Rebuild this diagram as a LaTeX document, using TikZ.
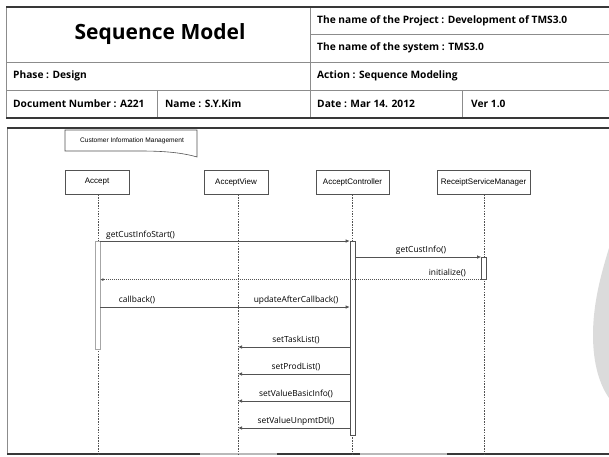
\documentclass[tikz,border=0pt]{standalone}
\usepackage{fontspec}
\setmainfont{Open Sans}
\newfontfamily\hdfont{Liberation Sans}
\usetikzlibrary{arrows.meta,calc}
\definecolor{thk}{gray}{0.22}
\definecolor{thn}{gray}{0.55}
\definecolor{lnc}{gray}{0.32}
\begin{document}
\begin{tikzpicture}[x=1pt,y=-1pt,
  thickline/.style={draw=thk,line width=1.6pt},
  thinline/.style={draw=thn,line width=0.9pt},
  tbltext/.style={anchor=west,inner sep=0pt,font=\bfseries\fontsize{10.2}{12}\selectfont},
  head/.style={draw=lnc,line width=0.6pt,minimum height=24pt,inner sep=0pt,font=\hdfont\fontsize{8}{10}\selectfont},
  lifeline/.style={draw=lnc,line width=0.6pt,dash pattern=on 1.5pt off 1.2pt},
  actbar/.style={draw=lnc,fill=white,line width=0.6pt,minimum width=5pt,inner sep=0pt,anchor=north},
  msg/.style={draw=lnc,line width=0.7pt,-{Latex[length=4pt,width=3.5pt]}},
  retmsg/.style={draw=lnc,line width=0.6pt,dash pattern=on 1pt off 1pt,-{Latex[length=3pt,width=3pt]}},
  lbl/.style={inner sep=0pt,font=\fontsize{8.4}{10}\selectfont}]
\useasboundingbox (0,0) rectangle (609,456);
% watermark
\fill[gray!28] (609,248) .. controls (603,268) and (593,300) .. (593,335) .. controls (593,365) and (600,385) .. (609,398) -- cycle;
% ---------- header table ----------
\draw[thinline] (310,34.5) -- (609,34.5);
\draw[thinline] (6,62) -- (609,62);
\draw[thinline] (6,90) -- (609,90);
\draw[thinline] (6,7) -- (6,118);
\draw[thinline] (310,7) -- (310,118);
\draw[thinline] (157,90) -- (157,118);
\draw[thinline] (462,90) -- (462,118);
\draw[thickline] (6,7) -- (609,7);
\draw[thickline] (6,118) -- (609,118);
\node[inner sep=0pt,font=\bfseries\fontsize{21}{24}\selectfont] (title) at (160,34.5) {Sequence Model};
\node[tbltext] (proj) at (317,20.75) {The name of the Project : Development of TMS3.0};
\node[tbltext] (sys) at (317,48.25) {The name of the system : TMS3.0};
\node[tbltext] (phase) at (13,76) {Phase : Design};
\node[tbltext] (action) at (317,76) {Action : Sequence Modeling};
\node[tbltext] (docno) at (13,104) {Document Number : A221};
\node[tbltext] (name) at (165,104) {Name : S.Y.Kim};
\node[tbltext] (date) at (317,104) {Date : Mar 14. 2012};
\node[tbltext] (ver) at (471,104) {Ver 1.0};
% ---------- frame ----------
\draw[thinline] (7,128) -- (7,454);
\draw[thickline] (7,128) -- (609,128);
\draw[thickline] (7,454) -- (609,454);
\draw[gray!55,line width=1.6pt] (200,454) -- (277,454);
\draw[gray!55,line width=1.6pt] (360,454) -- (447,454);
% note
\draw[draw=lnc,line width=0.6pt,fill=white] (65,130) -- (197,130) -- (197,157) .. controls (180,152) and (160,151) .. (140,151) -- (65,151) -- cycle;
\node[inner sep=0pt,font=\hdfont\fontsize{6.6}{8}\selectfont] (note) at (132,140.5) {Customer Information Management};
% ---------- lifelines ----------
\node[head,minimum width=64pt] (a) at (97,182) {Accept};
\node[head,minimum width=64pt] (av) at (236,182) {AcceptView};
\node[head,minimum width=73pt] (ac) at (352.5,182) {AcceptController};
\node[head,minimum width=93pt] (rsm) at (483.5,182) {ReceiptServiceManager};
\coordinate (aE) at (98,454);
\coordinate (avE) at (238,454);
\coordinate (acE) at (352.5,454);
\coordinate (rsmE) at (484,454);
\draw[lifeline] (a.south -| aE) -- (aE);
\draw[lifeline] (av.south -| avE) -- (avE);
\draw[lifeline] (ac.south -| acE) -- (acE);
\draw[lifeline] (rsm.south -| rsmE) -- (rsmE);
% activation bars
\node[actbar,draw=gray!70,minimum height=108pt] (abar) at (97.5,241) {};
\node[actbar,minimum height=194pt] (acbar) at (352.5,241) {};
\node[actbar,minimum height=22pt] (rsmbar) at (484,257) {};
% ---------- messages ----------
\draw[msg] (abar.north east) -- (acbar.north west);
\node[lbl,anchor=base west] (m1) at (106,237) {getCustInfoStart()};
\draw[msg] (acbar.east |- rsmbar.north) -- (rsmbar.north west);
\node[lbl,anchor=base] (m2) at (421,252) {getCustInfo()};
\draw[retmsg] (rsmbar.south west) -- (abar.east |- rsmbar.south);
\node[lbl,anchor=base east] (m3) at (466,275) {initialize()};
\coordinate (cb) at (238,307);
\draw[draw=lnc,line width=0.7pt] (abar.east |- cb) -- (cb);
\draw[msg] (cb) -- (acbar.west |- cb);
\node[lbl,anchor=base] (m4) at (137,302) {callback()};
\node[lbl,anchor=base] (m5) at (296,302) {updateAfterCallback()};
\coordinate (t1) at (238,347);
\coordinate (t2) at (238,374);
\coordinate (t3) at (238,401);
\coordinate (t4) at (238,428);
\draw[msg] (acbar.west |- t1) -- (t1);
\draw[msg] (acbar.west |- t2) -- (t2);
\draw[msg] (acbar.west |- t3) -- (t3);
\draw[msg] (acbar.west |- t4) -- (t4);
\node[lbl,anchor=base] (m6) at (296,342) {setTaskList()};
\node[lbl,anchor=base] (m7) at (296,369) {setProdList()};
\node[lbl,anchor=base] (m8) at (296,396) {setValueBasicInfo()};
\node[lbl,anchor=base] (m9) at (296,423) {setValueUnpmtDtl()};
\end{tikzpicture}
\end{document}
